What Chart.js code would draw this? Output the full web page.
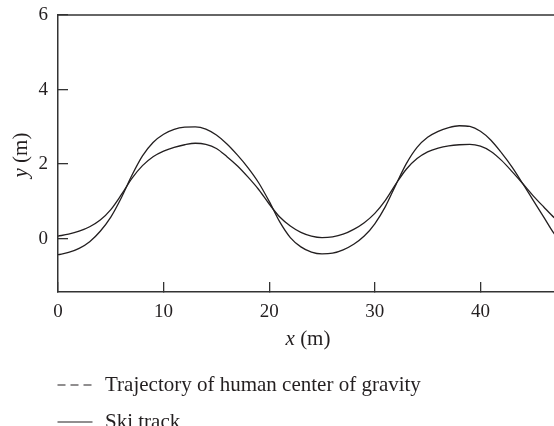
<!DOCTYPE html>
<html>
<head>
<meta charset="utf-8">
<script src="https://cdn.jsdelivr.net/npm/chart.js@4.4.1/dist/chart.umd.min.js"></script>
<style>
html,body{margin:0;padding:0;overflow:hidden;background:#fff;}
canvas{display:block;}
</style>
</head>
<body>
<canvas id="chart" width="560" height="426"></canvas>
<script>
// values
const xValues=[0,1,2,3,4,5,6,7,8,9,10,11,12,13,14,15,16,17,18,19,20,21,22,23,24,25,26,27,28,29,30,31,32,33,34,35,36,37,38,39,40,41,42,43,44,45,46,47,48];
const gravity=[0.07,0.12,0.2,0.32,0.5,0.78,1.18,1.62,1.96,2.2,2.35,2.45,2.52,2.56,2.53,2.42,2.2,1.95,1.65,1.32,0.93,0.58,0.34,0.17,0.07,0.03,0.05,0.12,0.25,0.43,0.68,1.03,1.47,1.87,2.15,2.33,2.43,2.49,2.52,2.53,2.48,2.34,2.1,1.8,1.48,1.15,0.85,0.56,0.32];
const skiTrack=[-0.43,-0.37,-0.26,-0.08,0.2,0.58,1.1,1.7,2.22,2.58,2.8,2.93,2.99,3.0,2.94,2.78,2.54,2.24,1.9,1.5,1.0,0.45,0.03,-0.22,-0.36,-0.41,-0.39,-0.3,-0.15,0.07,0.4,0.86,1.45,2.02,2.45,2.72,2.88,2.98,3.03,3.01,2.88,2.64,2.3,1.92,1.48,1.03,0.58,0.13,-0.18];
const seriesNames=["Trajectory of human center of gravity","Ski track"];
const legendDash=[[8,5],[]];
const xTicks=[0,10,20,30,40];
const yTicks=[0,2,4,6];

const ink="#231f20";
const serif='"Liberation Serif", "Times New Roman", serif';

function pts(ys){
    return xValues.map((x,i)=>({x:x,y:ys[i]}));
}

const extras={
    id:"extras",
    afterDraw(chart){
        const ctx=chart.ctx;
        const a=chart.chartArea;
        ctx.save();
        // top frame line
        ctx.strokeStyle="#333";
        ctx.lineWidth=1.5;
        ctx.beginPath();
        ctx.moveTo(a.left,a.top);
        ctx.lineTo(a.right,a.top);
        ctx.stroke();

        ctx.fillStyle=ink;
        ctx.textBaseline="middle";
        // axis titles with italic variable
        drawTitle(ctx,"x"," (m)",308,339);
        ctx.save();
        ctx.translate(21.5,155);
        ctx.rotate(-Math.PI/2);
        drawTitle(ctx,"y"," (m)",0,0);
        ctx.restore();

        // legend, one row each
        chart.data.datasets.forEach((ds,i)=>{
            const y=385+i*37;
            ctx.strokeStyle=ink;
            ctx.lineWidth=1.2;
            ctx.setLineDash(legendDash[i]);
            ctx.beginPath();
            ctx.moveTo(57.5,y);
            ctx.lineTo(92.5,y);
            ctx.stroke();
            ctx.setLineDash([]);
            ctx.font="21px "+serif;
            ctx.textAlign="left";
            ctx.fillText(ds.label,105,y);
        });
        ctx.restore();
    }
};

function drawTitle(ctx,v,rest,cx,cy){
    ctx.font="italic 21px "+serif;
    const w1=ctx.measureText(v).width;
    ctx.font="21px "+serif;
    const w2=ctx.measureText(rest).width;
    let x=cx-(w1+w2)/2;
    ctx.textAlign="left";
    ctx.font="italic 21px "+serif;
    ctx.fillText(v,x,cy);
    ctx.font="21px "+serif;
    ctx.fillText(rest,x+w1,cy);
}

const context=document.getElementById("chart").getContext("2d");
const chart=new Chart(context,{
    type:"line",
    data:{
        datasets:[
            {label:seriesNames[0],data:pts(gravity),borderColor:ink,borderWidth:1.3,pointRadius:0,fill:false,cubicInterpolationMode:"monotone"},
            {label:seriesNames[1],data:pts(skiTrack),borderColor:ink,borderWidth:1.3,pointRadius:0,fill:false,cubicInterpolationMode:"monotone"}
        ]
    },
    options:{
        responsive:false,
        animation:false,
        layout:{padding:{top:15,right:2.5,bottom:94,left:0}},
        plugins:{legend:{display:false},tooltip:{enabled:false}},
        scales:{
            x:{
                type:"linear",
                min:0,
                max:47.3,
                afterBuildTicks:s=>{s.ticks=xTicks.map(v=>({value:v}));},
                afterFit:s=>{s.height=40;s.paddingLeft=0;s.paddingRight=0;},
                grid:{drawOnChartArea:false,tickLength:-10,color:"#333",lineWidth:1.3},
                border:{color:"#333",width:1.5},
                ticks:{color:ink,padding:19,maxRotation:0,font:{family:serif,size:19}}
            },
            y:{
                min:-1.43,
                max:6,
                afterBuildTicks:s=>{s.ticks=yTicks.map(v=>({value:v}));},
                afterFit:s=>{s.width=58;s.paddingTop=0;s.paddingBottom=0;},
                grid:{drawOnChartArea:false,tickLength:-10,color:"#333",lineWidth:1.3},
                border:{color:"#333",width:1.5},
                ticks:{color:ink,padding:20,font:{family:serif,size:19}}
            }
        }
    },
    plugins:[extras]
});
</script>
</body>
</html>
